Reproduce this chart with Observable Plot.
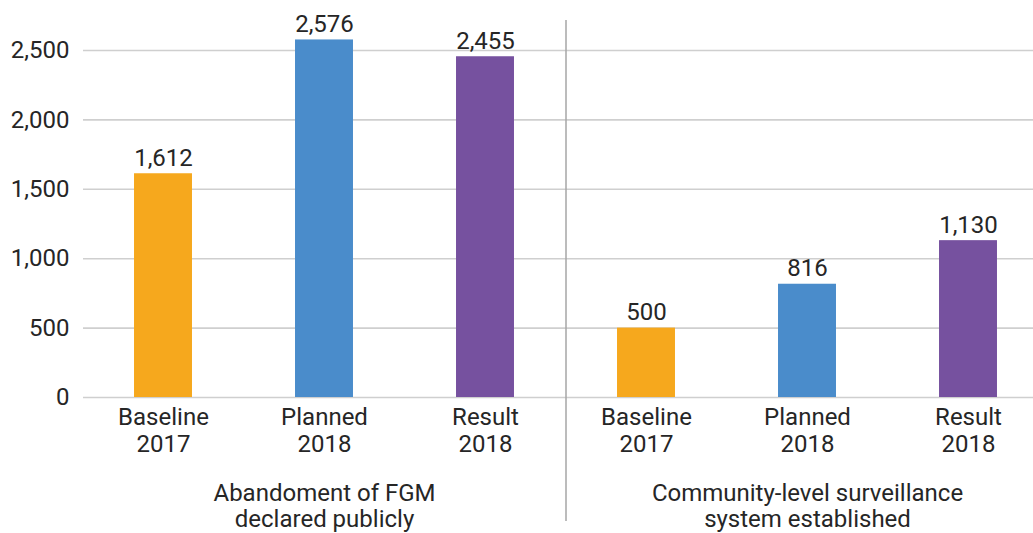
<!DOCTYPE html>
<html>
<head>
<meta charset="utf-8">
<script src="https://cdn.jsdelivr.net/npm/d3@7"></script>
<script src="https://cdn.jsdelivr.net/npm/@observablehq/plot@0.6"></script>
<style>
  html, body { margin: 0; padding: 0; background: #fff; }
  #chart svg { display: block; }
</style>
</head>
<body>
<div id="chart"></div>
<script>
const categories = ["Baseline\n2017", "Planned\n2018", "Result\n2018"];
const groups = ["Abandoment of FGM\ndeclared publicly", "Community-level surveillance\nsystem established"];
const valuesFGM = [1612, 2576, 2455];
const valuesSurveillance = [500, 816, 1130];
const colors = ["#F6A81D", "#4A8CCB", "#76519F"];
const yTicks = [0, 500, 1000, 1500, 2000, 2500];

const seriesValues = [valuesFGM, valuesSurveillance];
const bars = [];
groups.forEach((g, gi) => {
  categories.forEach((c, ci) => {
    bars.push({pos: gi * categories.length + ci, group: g, category: c, value: seriesValues[gi][ci], color: colors[ci]});
  });
});
const groupData = groups.map((g, gi) => ({group: g, pos: gi * categories.length + categories.length / 2}));
const separators = [categories.length];
const halfBar = 0.18;
const fs = 24;
const ink = "#262626";

const plot = Plot.plot({
  width: 1033,
  height: 533,
  marginLeft: 83,
  marginRight: 0,
  marginTop: 20,
  marginBottom: 12,
  style: {fontFamily: "Roboto, sans-serif", fontSize: fs + "px", color: ink, background: "#fff"},
  x: {type: "linear", domain: [0, 6], range: [82.5, 1048.5], axis: null},
  y: {domain: [0, 2500], range: [397, 50], axis: null},
  marks: [
    Plot.gridY(yTicks, {stroke: "#cfcfcf", strokeOpacity: 1, strokeWidth: 1.6}),
    Plot.axisY(yTicks, {label: null, tickSize: 0, tickPadding: 14, tickFormat: d3.format(","), fontSize: fs, fill: ink}),
    Plot.ruleX(separators, {x: d => d, stroke: "#a6a6a6", strokeWidth: 1.5}),
    Plot.rectY(bars, {x1: d => d.pos + 0.5 - halfBar, x2: d => d.pos + 0.5 + halfBar, y1: 0, y2: "value", fill: "color"}),
    Plot.text(bars, {x: d => d.pos + 0.5, y: "value", text: d => d3.format(",")(d.value), lineAnchor: "bottom", dy: -8, fontSize: fs, fill: ink}),
    Plot.text(bars, {x: d => d.pos + 0.5, y: 0, text: "category", lineAnchor: "top", dy: 9, lineHeight: 1.1, fontSize: fs, fill: ink}),
    Plot.text(groupData, {x: "pos", y: 0, text: "group", lineAnchor: "top", dy: 84, lineHeight: 1.12, fontSize: fs, fill: ink})
  ]
});
document.getElementById("chart").append(plot);
</script>
</body>
</html>
